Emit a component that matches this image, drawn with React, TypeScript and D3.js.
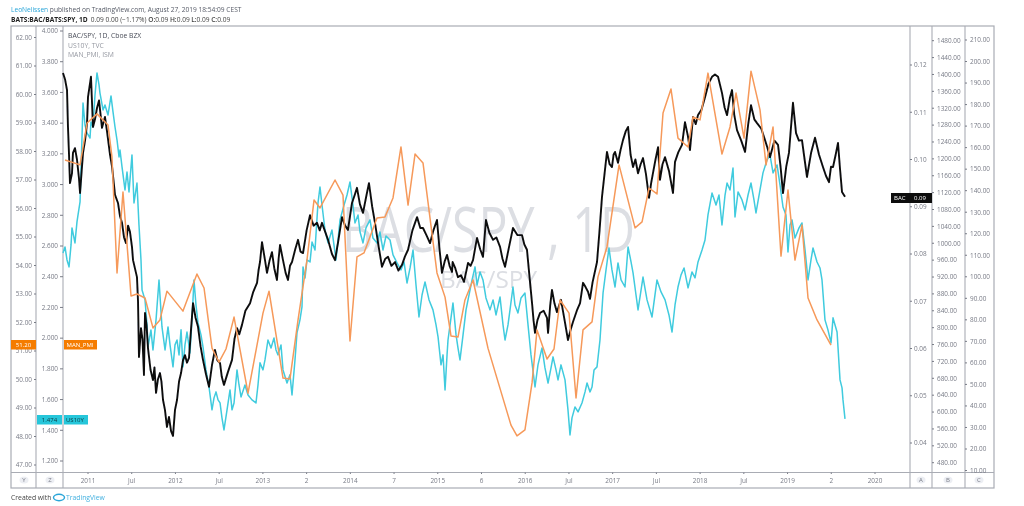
import React from "react";
import * as d3 from "d3";

// each pair is [years since 1 Jan 2011, value]
const bacSpy: [number, number][] = [[-.286,.1183],[-.263,.1170],[-.240,.1147],[-.229,.1069],[-.217,.1010],[-.206,.0950],[-.183,.0971],[-.172,.1014],[-.149,.1024],[-.126,.1000],[-.103,.0960],[-.091,.0929],[-.057,.1014],[-.034,.1040],[-.011,.1077],[0,.1132],[.034,.1175],[.046,.1120],[.057,.1069],[.080,.1085],[.103,.1109],[.126,.1125],[.160,.1067],[.194,.1090],[.217,.1060],[.252,.1010],[.275,.0985],[.309,.0925],[.343,.0908],[.366,.0880],[.389,.0866],[.412,.0835],[.435,.0823],[.458,.0860],[.480,.0847],[.503,.0815],[.515,.0787],[.560,.0751],[.572,.0700],[.583,.0582],[.606,.0643],[.623,.0620],[.640,.0544],[.652,.0675],[.669,.0650],[.686,.0601],[.715,.0555],[.743,.0533],[.760,.0560],[.778,.0506],[.800,.0535],[.823,.0548],[.840,.0530],[.858,.0491],[.880,.0470],[.903,.0434],[.926,.0455],[.950,.0425],[.972,.0415],[.995,.0470],[1.018,.0491],[1.041,.0530],[1.064,.0548],[1.086,.0575],[1.109,.0586],[1.132,.0570],[1.155,.0580],[1.178,.0640],[1.201,.0696],[1.230,.0665],[1.258,.0646],[1.287,.0605],[1.315,.0576],[1.350,.0545],[1.384,.0519],[1.418,.0565],[1.452,.0597],[1.480,.0575],[1.510,.0569],[1.530,.0540],[1.555,.0523],[1.600,.0550],[1.647,.0576],[1.675,.0620],[1.704,.0643],[1.730,.0630],[1.761,.0650],[1.800,.0680],[1.853,.0696],[1.890,.0720],[1.933,.0739],[1.950,.0765],[1.967,.0783],[1.990,.0825],[2.024,.0787],[2.047,.0760],[2.075,.0785],[2.104,.0804],[2.130,.0770],[2.161,.0745],[2.180,.0790],[2.196,.0819],[2.230,.0787],[2.260,.0760],[2.287,.0745],[2.310,.0775],[2.333,.0783],[2.370,.0810],[2.402,.0830],[2.430,.0805],[2.459,.0802],[2.500,.0850],[2.539,.0882],[2.580,.0860],[2.619,.0866],[2.650,.0850],[2.676,.0866],[2.745,.0830],[2.790,.0800],[2.825,.0787],[2.860,.0825],[2.905,.0878],[2.940,.0860],[2.973,.0851],[3.019,.0908],[3.050,.0925],[3.076,.0940],[3.110,.0905],[3.145,.0887],[3.180,.0920],[3.213,.0950],[3.250,.0900],[3.282,.0866],[3.320,.0820],[3.362,.0773],[3.400,.0790],[3.431,.0794],[3.470,.0775],[3.511,.0783],[3.550,.0765],[3.591,.0777],[3.625,.0795],[3.660,.0809],[3.710,.0850],[3.763,.0878],[3.800,.0855],[3.831,.0855],[3.870,.0840],[3.911,.0823],[3.950,.0850],[3.991,.0872],[4.020,.0810],[4.048,.0760],[4.080,.0785],[4.106,.0798],[4.135,.0775],[4.163,.0762],[4.170,.0783],[4.200,.0770],[4.231,.0751],[4.265,.0755],[4.300,.0741],[4.346,.0781],[4.375,.0775],[4.403,.0787],[4.430,.0815],[4.449,.0834],[4.485,.0810],[4.517,.0794],[4.551,.0872],[4.590,.0845],[4.632,.0830],[4.670,.0835],[4.712,.0815],[4.740,.0790],[4.769,.0773],[4.815,.0815],[4.860,.0855],[4.910,.0840],[4.963,.0840],[4.990,.0820],[5.020,.0809],[5.050,.0750],[5.078,.0696],[5.095,.0660],[5.112,.0633],[5.140,.0660],[5.169,.0675],[5.210,.0680],[5.249,.0665],[5.261,.0633],[5.285,.0690],[5.306,.0724],[5.335,.0695],[5.363,.0677],[5.409,.0703],[5.450,.0660],[5.489,.0618],[5.520,.0640],[5.546,.0656],[5.590,.0680],[5.627,.0696],[5.661,.0739],[5.690,.0730],[5.718,.0720],[5.741,.0705],[5.770,.0740],[5.821,.0783],[5.850,.0850],[5.878,.0921],[5.912,.0978],[5.935,.1016],[5.965,.0990],[5.992,.0984],[6.010,.1010],[6.027,.1016],[6.061,.0993],[6.090,.1020],[6.118,.1041],[6.150,.1060],[6.176,.1069],[6.205,.1010],[6.233,.0984],[6.260,.1000],[6.290,.0971],[6.320,.0990],[6.347,.1003],[6.380,.0970],[6.416,.0919],[6.440,.0950],[6.461,.0971],[6.490,.1000],[6.519,.1026],[6.541,.0957],[6.570,.0990],[6.599,.1005],[6.645,.0975],[6.690,.0929],[6.713,.0995],[6.750,.1015],[6.793,.1031],[6.827,.1079],[6.860,.1050],[6.884,.1020],[6.919,.1090],[6.950,.1075],[6.976,.1094],[7.015,.1105],[7.056,.1132],[7.095,.1160],[7.136,.1175],[7.170,.1180],[7.205,.1175],[7.250,.1141],[7.280,.1110],[7.308,.1094],[7.340,.1130],[7.365,.1147],[7.390,.1095],[7.422,.1062],[7.470,.1040],[7.514,.1016],[7.550,.1075],[7.582,.1115],[7.620,.1085],[7.651,.1077],[7.700,.1065],[7.742,.1041],[7.770,.1025],[7.799,.1005],[7.850,.1040],[7.891,.1031],[7.920,.0985],[7.948,.0929],[7.985,.0985],[8.016,.1014],[8.040,.1070],[8.062,.1120],[8.097,.1056],[8.130,.1040],[8.165,.1041],[8.195,.1000],[8.222,.0963],[8.270,.1015],[8.314,.1046],[8.360,.1010],[8.405,.0984],[8.440,.0965],[8.474,.0952],[8.497,.0985],[8.520,.0984],[8.550,.1010],[8.577,.1035],[8.600,.0980],[8.623,.0931],[8.657,.0921]];

const us10y: [number, number][] = [[-.286,2.555],[-.263,2.594],[-.240,2.509],[-.217,2.464],[-.194,2.607],[-.183,2.718],[-.149,2.620],[-.126,2.757],[-.114,2.802],[-.091,2.887],[-.080,3.095],[-.057,3.531],[-.034,3.388],[-.011,3.336],[.023,3.303],[.034,3.408],[.057,3.375],[.080,3.583],[.103,3.727],[.126,3.649],[.137,3.596],[.172,3.486],[.194,3.518],[.229,3.453],[.263,3.577],[.286,3.473],[.309,3.375],[.332,3.290],[.355,3.180],[.366,3.225],[.389,3.115],[.423,2.965],[.446,3.082],[.469,2.952],[.503,3.193],[.526,2.880],[.560,3.010],[.583,2.737],[.606,2.509],[.618,2.314],[.652,2.249],[.675,2.086],[.686,1.943],[.720,2.053],[.743,1.923],[.778,2.119],[.812,2.379],[.846,2.073],[.881,1.923],[.915,2.073],[.938,1.956],[.972,1.813],[.995,1.956],[1.018,1.988],[1.041,1.891],[1.064,2.054],[1.086,1.813],[1.109,1.956],[1.132,2.040],[1.166,1.904],[1.189,2.119],[1.212,2.379],[1.235,2.216],[1.258,2.099],[1.292,2.021],[1.315,1.943],[1.349,1.793],[1.384,1.682],[1.418,1.533],[1.441,1.611],[1.464,1.650],[1.487,1.598],[1.510,1.578],[1.532,1.481],[1.555,1.402],[1.590,1.533],[1.624,1.663],[1.647,1.533],[1.670,1.578],[1.704,1.793],[1.727,1.695],[1.750,1.617],[1.795,1.695],[1.830,1.630],[1.875,1.598],[1.921,1.578],[1.944,1.695],[1.967,1.839],[2.001,1.793],[2.024,1.858],[2.058,1.988],[2.093,1.936],[2.127,2.001],[2.150,1.923],[2.173,1.891],[2.207,1.956],[2.230,1.793],[2.276,1.708],[2.310,1.761],[2.333,1.630],[2.367,1.858],[2.390,2.034],[2.424,2.119],[2.447,2.203],[2.459,2.464],[2.482,2.392],[2.504,2.509],[2.539,2.496],[2.562,2.626],[2.596,2.574],[2.630,2.880],[2.653,2.984],[2.676,2.867],[2.710,2.704],[2.745,2.620],[2.790,2.704],[2.836,2.509],[2.859,2.639],[2.882,2.770],[2.928,2.867],[2.962,2.932],[2.996,3.017],[3.030,2.867],[3.053,2.750],[3.088,2.802],[3.111,2.691],[3.145,2.620],[3.179,2.718],[3.225,2.770],[3.259,2.652],[3.305,2.620],[3.339,2.691],[3.373,2.574],[3.408,2.665],[3.454,2.639],[3.488,2.542],[3.534,2.490],[3.579,2.444],[3.614,2.496],[3.648,2.359],[3.683,2.457],[3.717,2.574],[3.751,2.346],[3.785,2.138],[3.820,2.281],[3.854,2.366],[3.900,2.249],[3.945,2.184],[3.980,2.086],[4.003,2.008],[4.037,1.826],[4.060,1.891],[4.083,1.663],[4.106,1.891],[4.117,1.988],[4.151,2.132],[4.174,2.229],[4.209,2.021],[4.231,1.936],[4.254,1.858],[4.289,2.021],[4.323,2.184],[4.346,2.249],[4.392,2.379],[4.426,2.464],[4.449,2.346],[4.483,2.431],[4.517,2.379],[4.551,2.262],[4.597,2.184],[4.632,2.249],[4.666,2.151],[4.712,2.268],[4.746,2.086],[4.769,1.988],[4.803,2.086],[4.826,2.184],[4.860,2.333],[4.883,2.216],[4.917,2.164],[4.952,2.262],[4.997,2.294],[5.032,2.086],[5.066,1.891],[5.112,1.682],[5.146,1.826],[5.192,1.936],[5.226,1.806],[5.261,1.708],[5.295,1.806],[5.318,1.878],[5.352,1.793],[5.375,1.728],[5.409,1.826],[5.455,1.728],[5.489,1.533],[5.512,1.370],[5.535,1.481],[5.569,1.552],[5.604,1.520],[5.649,1.578],[5.684,1.650],[5.707,1.708],[5.741,1.650],[5.764,1.682],[5.787,1.793],[5.821,1.813],[5.855,1.988],[5.890,2.294],[5.924,2.444],[5.958,2.587],[5.992,2.444],[6.027,2.333],[6.061,2.490],[6.096,2.379],[6.141,2.333],[6.176,2.594],[6.210,2.496],[6.233,2.425],[6.267,2.281],[6.290,2.184],[6.325,2.314],[6.347,2.398],[6.393,2.249],[6.450,2.138],[6.507,2.379],[6.553,2.301],[6.599,2.249],[6.644,2.151],[6.679,2.040],[6.713,2.216],[6.747,2.333],[6.782,2.412],[6.816,2.457],[6.862,2.327],[6.907,2.431],[6.942,2.392],[6.976,2.496],[7.022,2.574],[7.056,2.639],[7.090,2.802],[7.136,2.945],[7.182,2.867],[7.216,2.932],[7.250,2.737],[7.285,2.932],[7.308,3.010],[7.342,2.965],[7.376,3.108],[7.399,2.789],[7.434,2.952],[7.479,2.900],[7.514,2.835],[7.548,2.932],[7.582,3.010],[7.616,2.900],[7.639,2.815],[7.685,2.965],[7.719,3.076],[7.765,3.160],[7.799,3.193],[7.834,3.076],[7.880,3.128],[7.914,2.997],[7.948,2.854],[7.982,2.802],[8.005,2.561],[8.028,2.737],[8.051,2.770],[8.085,2.652],[8.131,2.718],[8.165,2.750],[8.200,2.574],[8.234,2.379],[8.268,2.509],[8.291,2.587],[8.337,2.496],[8.371,2.457],[8.394,2.379],[8.428,2.119],[8.462,2.054],[8.497,1.969],[8.520,2.132],[8.543,2.086],[8.566,2.040],[8.600,1.728],[8.623,1.676],[8.634,1.598],[8.657,1.474]];

const manPmi: [number, number][] = [[-.263,57.70],[-.091,57.53],[-.011,59.00],[.103,59.32],[.229,58.93],[.274,57.81],[.332,53.74],[.400,56.58],[.492,52.93],[.560,53.00],[.652,52.86],[.743,51.81],[.823,52.09],[.903,53.10],[1.086,52.40],[1.246,53.70],[1.327,53.21],[1.418,51.10],[1.498,50.61],[1.578,51.07],[1.670,52.19],[1.830,49.52],[2.001,52.33],[2.070,53.10],[2.230,50.05],[2.310,50.02],[2.402,52.09],[2.504,54.19],[2.585,56.30],[2.653,56.02],[2.825,57.00],[2.916,56.47],[2.996,51.35],[3.076,54.30],[3.156,54.44],[3.305,55.67],[3.396,55.70],[3.488,56.37],[3.579,58.16],[3.660,56.12],[3.740,57.91],[3.831,57.60],[3.991,53.74],[4.083,52.89],[4.151,51.53],[4.231,51.49],[4.311,52.79],[4.403,53.49],[4.574,51.10],[4.837,48.40],[4.906,48.02],[4.997,48.23],[5.078,49.88],[5.135,51.74],[5.249,50.72],[5.329,51.07],[5.398,52.79],[5.501,52.33],[5.581,49.35],[5.661,51.74],[5.764,52.02],[5.832,53.60],[5.935,54.65],[6.073,57.53],[6.256,55.32],[6.336,55.53],[6.416,56.72],[6.507,56.51],[6.576,59.35],[6.667,60.19],[6.747,58.47],[6.862,58.16],[6.919,59.21],[6.999,59.11],[7.090,60.75],[7.250,57.91],[7.342,58.86],[7.411,60.05],[7.502,58.47],[7.582,60.82],[7.685,59.46],[7.754,57.53],[7.834,58.86],[7.925,54.33],[8.005,56.65],[8.085,54.19],[8.165,55.42],[8.234,52.86],[8.337,52.09],[8.497,51.21]];

const pmiTicks = [47,48,49,50,51,52,53,54,55,56,57,58,59,60,61,62];
const usTicks = [1.2,1.4,1.6,1.8,2.0,2.2,2.4,2.6,2.8,3.0,3.2,3.4,3.6,3.8,4.0];
const bacTicks = [0.04,0.05,0.06,0.07,0.08,0.09,0.10,0.11,0.12];
const bTicks = d3.range(480, 1481, 40);
const cTicks = d3.range(10, 211, 10);
const timeTickYears = [0,0.5,1,1.5,2,2.5,3,3.5,4,4.5,5,5.5,6,6.5,7,7.5,8,8.5,9];
const timeTickLabels = ["2011","Jul","2012","Jul","2013","2","2014","7","2015","6","2016","Jul","2017","Jul","2018","Jul","2019","2","2020"];

const FONT = "'Open Sans', sans-serif";
const TICK = "#787b86";
const RULE = "#a9acb4";
const W = 1024, H = 506;
const top = 26, timeY = 472.5, bottom = 488;

export default function App() {
  const x = d3.scaleLinear().domain([0, 9]).range([88, 875]);
  const yPmi = d3.scaleLinear().domain([47, 62]).range([465, 37.5]);
  const yUs = d3.scaleLinear().domain([1.2, 4]).range([461, 31]);
  const yBac = d3.scaleLinear().domain([0.04, 0.12]).range([443, 65]);
  const yB = d3.scaleLinear().domain([480, 1480]).range([462.7, 40.7]);
  const yC = d3.scaleLinear().domain([20, 210]).range([449, 40]);

  const path = (pts: [number, number][], y: d3.ScaleLinear<number, number>) =>
    d3.line<[number, number]>().x((d) => x(d[0])).y((d) => y(d[1]))(pts) as string;

  return (
    <svg width={W} height={H} viewBox={`0 0 ${W} ${H}`} style={{ position: "absolute", left: 0, top: 0, display: "block", background: "#fff" }} fontFamily={FONT}>
      <defs>
        <filter id="soft" filterUnits="userSpaceOnUse" x="0" y="0" width={W} height={H}>
          <feGaussianBlur stdDeviation="0.7" />
        </filter>
      </defs>
      <g filter="url(#soft)">
        <text x={11} y={12} fontSize={6.6} fill="#555a66">
          <tspan fill="#2aa5d8">LeoNelissen</tspan> published on TradingView.com, August 27, 2019 18:54:09 CEST
        </text>
        <text x={11} y={21.5} fontSize={6.6} fill="#444">
          <tspan fontWeight={700} fill="#222">BATS:BAC/BATS:SPY, 1D</tspan>
          <tspan dx={3}>0.09 0.00 (−1.17%)</tspan>
          <tspan dx={2} fontWeight={600}>O:</tspan>0.09
          <tspan dx={1.5} fontWeight={600}>H:</tspan>0.09
          <tspan dx={1.5} fontWeight={600}>L:</tspan>0.09
          <tspan dx={1.5} fontWeight={600}>C:</tspan>0.09
        </text>

        <text x={342} y={252} fontSize={62} fill="#dcdee3" textLength={293} lengthAdjust="spacingAndGlyphs">BAC/SPY , 1D</text>
        <text x={440} y={288} fontSize={24} fill="#dcdee3" textLength={97} lengthAdjust="spacingAndGlyphs">BAC/SPY</text>

        <rect x={11} y={top} width={983} height={bottom - top} fill="none" stroke={RULE} strokeWidth={1.2} />
        {[36, 63, 910, 932, 965].map((p) => (
          <line key={p} x1={p} x2={p} y1={top} y2={bottom} stroke={RULE} strokeWidth={1.1} />
        ))}
        <line x1={11} x2={994} y1={timeY} y2={timeY} stroke={RULE} strokeWidth={1.1} />

        {pmiTicks.map((t) => (
          <g key={t}>
            <line x1={34} x2={36} y1={yPmi(t)} y2={yPmi(t)} stroke={TICK} />
            <text x={32} y={yPmi(t) + 2.3} fontSize={6.4} fill={TICK} textAnchor="end">{t.toFixed(2)}</text>
          </g>
        ))}
        {usTicks.map((t) => (
          <g key={t}>
            <line x1={60} x2={63} y1={yUs(t)} y2={yUs(t)} stroke={TICK} />
            <text x={58} y={yUs(t) + 2.3} fontSize={6.4} fill={TICK} textAnchor="end">{t.toFixed(3)}</text>
          </g>
        ))}
        {bacTicks.map((t) => (
          <g key={t}>
            <line x1={910} x2={912} y1={yBac(t)} y2={yBac(t)} stroke={TICK} />
            <text x={914} y={yBac(t) + 2.3} fontSize={6.4} fill={TICK}>{t.toFixed(2)}</text>
          </g>
        ))}
        {bTicks.map((t) => (
          <g key={t}>
            <line x1={932} x2={934} y1={yB(t)} y2={yB(t)} stroke={TICK} />
            <text x={937} y={yB(t) + 2.3} fontSize={6.4} fill={TICK}>{t.toFixed(2)}</text>
          </g>
        ))}
        {cTicks.map((t) => (
          <g key={t}>
            <line x1={965} x2={967} y1={yC(t)} y2={yC(t)} stroke={TICK} />
            <text x={970} y={yC(t) + 2.3} fontSize={6.4} fill={TICK}>{t.toFixed(2)}</text>
          </g>
        ))}
        {timeTickYears.map((t, i) => (
          <g key={t}>
            <line x1={x(t)} x2={x(t)} y1={timeY} y2={timeY + 1.5} stroke={TICK} />
            <text x={x(t)} y={483} fontSize={6.4} fill={TICK} textAnchor="middle">{timeTickLabels[i]}</text>
          </g>
        ))}

        {[["Y", 24], ["Z", 50], ["A", 921], ["B", 948], ["C", 979]].map(([s, p]) => (
          <g key={s as string}>
            <ellipse cx={p as number} cy={480} rx={4.5} ry={3.6} fill="#eceef3" />
            <text x={p as number} y={482.2} fontSize={6} fill={TICK} textAnchor="middle">{s}</text>
          </g>
        ))}

        <path d={path(us10y, yUs)} fill="none" stroke="#3fcbde" strokeWidth={1.5} strokeLinejoin="round" />
        <path d={path(bacSpy, yBac)} fill="none" stroke="#0c0d10" strokeWidth={1.9} strokeLinejoin="round" />
        <path d={path(manPmi, yPmi)} fill="none" stroke="#f6995a" strokeWidth={1.5} strokeLinejoin="round" />

        <text x={68} y={38} fontSize={6.8} fill="#4a4e59">BAC/SPY, 1D, Cboe BZX</text>
        <text x={68} y={47.5} fontSize={6.8} fill="#9598a1">US10Y, TVC</text>
        <text x={68} y={56.5} fontSize={6.8} fill="#9598a1">MAN_PMI, ISM</text>

        <rect x={11} y={340} width={25} height={9.5} fill="#f57c00" />
        <text x={23.5} y={347.2} fontSize={6} fill="#fff" textAnchor="middle">51.20</text>
        <rect x={64} y={340} width={33} height={9.5} fill="#f57c00" />
        <text x={66.5} y={347.2} fontSize={6} fill="#fff">MAN_PMI</text>

        <rect x={37} y={415} width={25} height={9.5} fill="#26c6da" />
        <text x={49.5} y={422.2} fontSize={6} fill="#0c3a42" textAnchor="middle">1.474</text>
        <rect x={64} y={415} width={24} height={9.5} fill="#26c6da" />
        <text x={66} y={422.2} fontSize={6} fill="#0c3a42">US10Y</text>

        <rect x={891} y={193} width={41} height={10} fill="#111" />
        <text x={894} y={200.3} fontSize={6} fill="#fff">BAC</text>
        <text x={914} y={200.3} fontSize={6} fill="#fff">0.09</text>

        <text x={11} y={500} fontSize={6.8} fill="#444">Created with</text>
        <ellipse cx={59} cy={497.5} rx={5.5} ry={3.2} fill="none" stroke="#2aa5d8" strokeWidth={1.4} />
        <text x={66} y={500} fontSize={6.8} fill="#45b1e0">TradingView</text>
      </g>
    </svg>
  );
}
